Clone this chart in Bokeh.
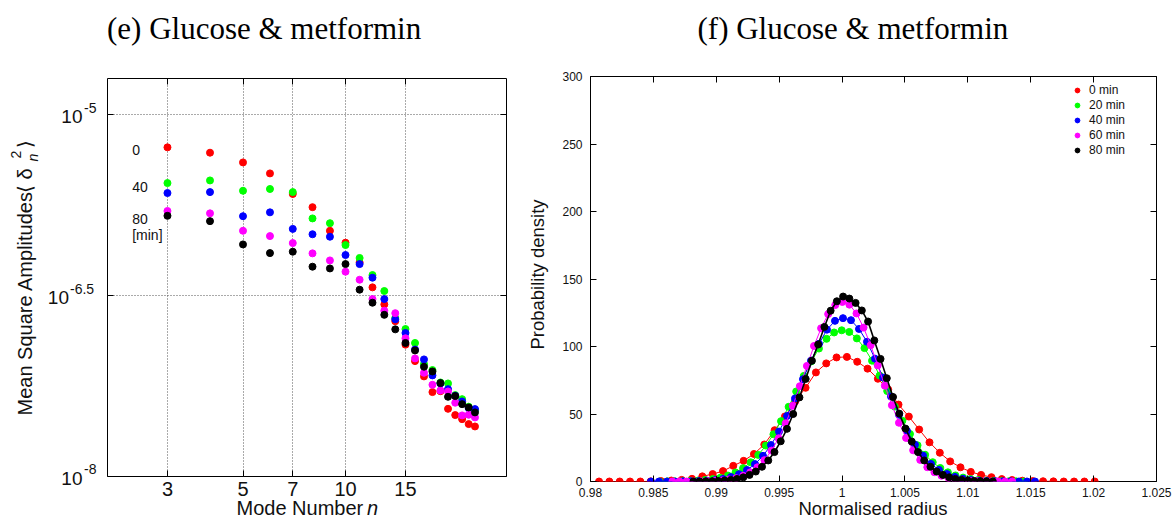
import numpy as np
from bokeh.plotting import figure
from bokeh.models import (Range1d, FixedTicker, Label, LogAxis, LinearAxis, GridBox,
                          CustomJSTickFormatter, Legend, LegendItem)
from bokeh.embed import file_html
from bokeh.resources import INLINE

# ---------------- data: panel (e) ----------------
modes = list(range(3, 25))
amp_0 = [5.36e-6, 4.84e-6, 4.02e-6, 3.26e-6, 2.20e-6, 1.71e-6, 1.09e-6, 8.68e-7, 5.96e-7, 3.70e-7, 2.67e-7,
         1.94e-7, 1.24e-7, 9.05e-8, 6.76e-8, 5.01e-8, 5.10e-8, 3.64e-8, 3.23e-8, 2.99e-8, 2.72e-8, 2.60e-8]
amp_20 = [2.71e-6, 2.85e-6, 2.34e-6, 2.42e-6, 2.28e-6, 1.38e-6, 1.26e-6, 8.30e-7, 6.48e-7, 4.68e-7, 3.45e-7,
          2.06e-7, 1.67e-7, 1.28e-7, 8.55e-8, 7.63e-8, 6.02e-8, 5.91e-8, 4.73e-8, 4.38e-8, 3.79e-8, 3.57e-8]
amp_40 = [2.24e-6, 2.28e-6, 1.44e-6, 1.55e-6, 1.13e-6, 1.02e-6, 9.73e-7, 6.86e-7, 5.77e-7, 4.45e-7, 2.96e-7,
          2.01e-7, 1.55e-7, 1.13e-7, 9.35e-8, 6.89e-8, 5.91e-8, 5.30e-8, 4.67e-8, 4.19e-8, 3.69e-8, 3.62e-8]
amp_60 = [1.59e-6, 1.52e-6, 1.09e-6, 9.85e-7, 8.62e-7, 7.08e-7, 6.19e-7, 4.99e-7, 4.28e-7, 2.96e-7, 2.37e-7,
          2.26e-7, 1.40e-7, 9.53e-8, 7.24e-8, 5.76e-8, 5.17e-8, 5.07e-8, 4.09e-8, 3.21e-8, 3.25e-8, 3.09e-8]
amp_80 = [1.45e-6, 1.31e-6, 8.40e-7, 7.12e-7, 7.31e-7, 5.49e-7, 5.31e-7, 5.77e-7, 3.54e-7, 2.76e-7, 2.19e-7,
          1.66e-7, 1.28e-7, 1.11e-7, 8.13e-8, 7.43e-8, 5.95e-8, 4.58e-8, 4.64e-8, 3.98e-8, 3.74e-8, 3.40e-8]
amp_series = [amp_0, amp_20, amp_40, amp_60, amp_80]
e_xticks = [3, 5, 7, 10, 15]
e_yticks = [1e-8, 10 ** -6.5, 1e-5]
e_ytick_exp = ["-8", "-6.5", "-5"]
e_side_texts = ["0", "40", "80", "[min]"]

# ---------------- data: panel (f) ----------------
times = ["0 min", "20 min", "40 min", "60 min", "80 min"]
colors = ["#ff0000", "#00ff00", "#0000ff", "#ff00ff", "#000000"]
bin_start = [0.98068, 0.98550, 0.98481, 0.98651, 0.98818]
bin_width = [0.000821, 0.000603, 0.000636, 0.000563, 0.000496]
pd_0 = [0, 0, 0, 0, 0, 0.1, 0.3, 0.7, 1.2, 2.0, 3.8, 5.5, 7.7, 11.6, 15.3, 20.4, 27.4, 38.0, 48.2, 59.4,
        69.4, 80.8, 87.5, 91.9, 92.3, 88.7, 83.6, 76.1, 68.1, 57.0, 48.1, 38.5, 29.0, 21.3, 14.9, 10.5, 7.1,
        4.9, 3.2, 1.8, 1.1, 0.6, 0.3, 0.2, 0.1, 0, 0, 0, 0]
pd_20 = [0.0, 0.1, 0.1, 0.2, 0.3, 0.6, 1.1, 1.8, 2.8, 4.4, 6.7, 9.9, 14.2, 19.7, 26.6, 35.0, 44.7, 55.3,
         66.7, 78.2, 89.0, 98.5, 105.7, 110.4, 112.0, 110.8, 106.0, 98.8, 89.5, 78.5, 67.0, 55.5, 45.0, 35.2,
         26.8, 19.8, 14.3, 10.0, 6.8, 4.5, 2.9, 1.8, 1.1, 0.6, 0.3, 0.2, 0.1, 0.1, 0.0]
pd_40 = [0, 0, 0, 0, 0.1, 0.1, 0.3, 0.6, 1.0, 1.9, 3.3, 5.4, 8.5, 12.9, 19.0, 27.0, 37.0, 48.5, 61.5, 75.8,
         89.5, 102.0, 112.5, 119.0, 121.0, 119.5, 113.0, 103.5, 91.0, 77.0, 63.0, 49.5, 37.5, 27.3, 19.2,
         13.0, 8.6, 5.5, 3.4, 2.0, 1.1, 0.6, 0.3, 0.2, 0.1, 0.1, 0, 0, 0]
pd_60 = [0, 0, 0, 0, 0.1, 0.2, 0.4, 0.8, 1.5, 2.5, 4.2, 6.8, 10.5, 15.8, 22.9, 32.0, 43.1, 56.1, 70.6, 85.6,
         100.4, 113.5, 124.0, 130.7, 133.0, 131.0, 124.5, 114.0, 101.0, 86.0, 71.0, 56.5, 43.5, 32.3, 23.1,
         16.0, 10.6, 6.9, 4.3, 2.6, 1.5, 0.8, 0.5, 0.2, 0.1, 0, 0, 0, 0]
pd_80 = [0.0, 0.0, 0.1, 0.2, 0.4, 0.7, 1.2, 1.9, 3.1, 4.9, 7.4, 10.9, 15.6, 21.8, 29.8, 39.0, 50.0, 62.3,
         76.0, 89.5, 101.5, 114.5, 126.5, 133.5, 137.0, 135.5, 132.3, 126.7, 118.5, 104.5, 90.8, 76.5, 62.6,
         50.3, 39.2, 29.6, 21.8, 15.6, 10.9, 7.4, 4.9, 3.1, 1.9, 1.2, 0.7, 0.4, 0.2, 0.1, 0.0]
pd_series = [pd_0, pd_20, pd_40, pd_60, pd_80]
f_xticks = [0.98, 0.985, 0.99, 0.995, 1.0, 1.005, 1.01, 1.015, 1.02, 1.025]
f_xtick_labels = ["0.98", "0.985", "0.99", "0.995", "1", "1.005", "1.01", "1.015", "1.02", "1.025"]
f_yticks = [0, 50, 100, 150, 200, 250, 300]

SANS = "Liberation Sans"
SERIF = "Liberation Serif"
INK = "#111111"
PAGE_W, H = 1175, 520
KB = 0.36  # label anchor sits this fraction of the font size above the baseline


def empty_fmt():
    return CustomJSTickFormatter(code="return '';")


# ================= panel (e) =================
W1 = 520
L1, R1, T1, B1 = 107, 506, 78, 476
X1 = (2.0, 29.7)
Y1 = (1e-8, 10 ** -4.70)

p1 = figure(width=W1, height=H, x_axis_type="log", y_axis_type="log",
            x_range=Range1d(*X1), y_range=Range1d(*Y1),
            output_backend="svg", toolbar_location=None, frame_align=False,
            min_border_left=L1, min_border_right=W1 - R1,
            min_border_top=T1, min_border_bottom=H - B1)
p1.outline_line_color = "black"
p1.outline_line_width = 1
p1.outline_line_alpha = 1

lx0, lx1 = np.log10(X1[0]), np.log10(X1[1])
ly0, ly1 = np.log10(Y1[0]), np.log10(Y1[1])


def ex(px):
    return 10 ** (lx0 + (px - L1) / (R1 - L1) * (lx1 - lx0))


def ey(py):
    return 10 ** (ly0 + (B1 - py) / (B1 - T1) * (ly1 - ly0))


def tick_py(v):
    return B1 - (np.log10(v) - ly0) / (ly1 - ly0) * (B1 - T1)


xt = FixedTicker(ticks=e_xticks)
yt = FixedTicker(ticks=e_yticks)
p1.xaxis.ticker = xt
p1.xaxis.formatter = CustomJSTickFormatter(code="return String(tick);")
p1.xaxis.major_label_text_font = SANS
p1.xaxis.major_label_text_font_size = "20px"
p1.xaxis.major_label_text_color = INK
p1.xaxis.major_label_standoff = 5
p1.yaxis.ticker = yt
p1.yaxis.formatter = empty_fmt()
p1.yaxis.major_label_standoff = 0
for ax in [p1.xaxis[0], p1.yaxis[0]]:
    ax.axis_line_color = None
    ax.major_tick_in = 6
    ax.major_tick_out = 0
    ax.minor_tick_line_color = None
p1.add_layout(LogAxis(ticker=yt, formatter=empty_fmt(), axis_line_color=None, major_tick_in=6, major_tick_out=0,
                      minor_tick_line_color=None, major_label_standoff=0), "right")
p1.add_layout(LogAxis(ticker=xt, formatter=empty_fmt(), axis_line_color=None, major_tick_in=6, major_tick_out=0,
                      minor_tick_line_color=None, major_label_standoff=0), "above")
for g in [p1.xgrid[0], p1.ygrid[0]]:
    g.grid_line_color = "#555555"
    g.grid_line_dash = "1 2"
    g.grid_line_width = 1
p1.xgrid.ticker = xt
p1.ygrid.ticker = yt

for amps, c in zip(amp_series, colors):
    p1.scatter(modes, amps, size=7, fill_color=c, line_color=c)

side_base = [155, 191.7, 224, 239.5]
for t, b in zip(e_side_texts, side_base):
    p1.add_layout(Label(x=ex(131.7), y=ey(b - KB * 14), text=t, text_font=SANS, text_font_size="14px",
                        text_align="left", text_baseline="alphabetic", text_color=INK))

# ================= panel (f) =================
W2 = PAGE_W - W1
PL2, PR2, T2, B2 = 590, 1156, 76, 481  # page coordinates of frame
X2 = (0.98, 1.025)
Y2 = (0, 300)
p2 = figure(width=W2, height=H, x_range=Range1d(*X2), y_range=Range1d(*Y2),
            output_backend="svg", toolbar_location=None, frame_align=False,
            min_border_left=PL2 - W1, min_border_right=PAGE_W - PR2,
            min_border_top=T2, min_border_bottom=H - B2)
p2.outline_line_color = "black"
p2.outline_line_width = 1
p2.outline_line_alpha = 1
p2.xgrid.visible = False
p2.ygrid.visible = False

fxt = FixedTicker(ticks=f_xticks)
fyt = FixedTicker(ticks=f_yticks)
p2.xaxis.ticker = fxt
p2.xaxis.formatter = CustomJSTickFormatter(
    args=dict(tvals=f_xticks, tlabs=f_xtick_labels),
    code="const i = tvals.findIndex(t => Math.abs(t - tick) < 1e-9); return i >= 0 ? tlabs[i] : '';")
p2.yaxis.ticker = fyt
for ax in [p2.xaxis[0], p2.yaxis[0]]:
    ax.axis_line_color = None
    ax.major_tick_in = 6
    ax.major_tick_out = 0
    ax.minor_tick_line_color = None
    ax.major_label_text_font = SANS
    ax.major_label_text_font_size = "12px"
    ax.major_label_text_color = INK
p2.xaxis.major_label_standoff = 6
p2.yaxis.major_label_standoff = 8
p2.add_layout(LinearAxis(ticker=fyt, formatter=empty_fmt(), axis_line_color=None, major_tick_in=6,
                         major_tick_out=0, minor_tick_line_color=None, major_label_standoff=0), "right")
p2.add_layout(LinearAxis(ticker=fxt, formatter=empty_fmt(), axis_line_color=None, major_tick_in=6,
                         major_tick_out=0, minor_tick_line_color=None, major_label_standoff=0), "above")

items = []
for s0, dw, vals, c, lab in zip(bin_start, bin_width, pd_series, colors, times):
    r = s0 + dw * np.arange(len(vals))
    p2.line(r, vals, line_color=c, line_width=1.6 if c == "#000000" else 1)
    sc = p2.scatter(r, vals, size=7, fill_color=c, line_color=c)
    items.append(LegendItem(label=lab, renderers=[sc]))

leg = Legend(items=items, location="top_right", margin=7, padding=0, spacing=1,
             label_text_font=SANS, label_text_font_size="12px", label_text_color=INK,
             label_height=12, glyph_height=12, glyph_width=12, label_width=60, label_standoff=6,
             border_line_color=None, background_fill_alpha=0)
p2.add_layout(leg)

# ================= text layer (page pixel coordinates) =================
ov = figure(width=PAGE_W, height=H, x_range=Range1d(0, PAGE_W), y_range=Range1d(H, 0),
            output_backend="svg", toolbar_location=None, x_axis_location=None, y_axis_location=None,
            frame_align=False,
            min_border_left=0, min_border_right=0, min_border_top=0, min_border_bottom=0,
            outline_line_color=None, background_fill_alpha=0, border_fill_alpha=0)
ov.grid.visible = False
UP = np.pi / 2


def txt(x, y, text, size, font=SANS, align="left", angle=0.0, style="normal", color=INK, kb=KB):
    # (x, y) is the wanted baseline point in page pixels
    if angle == 0.0:
        y = y - kb * size
    else:
        x = x - kb * size
    ov.add_layout(Label(x=x, y=y, text=text, text_font=font, text_font_size=f"{size}px", text_align=align,
                        text_baseline="alphabetic", angle=angle, text_font_style=style, text_color=color))


# titles
txt(106.5, 38, "(e) Glucose & metformin", 31, font=SERIF, color="black", kb=0.33)
txt(697, 38, "(f) Glucose & metformin", 31, font=SERIF, color="black", kb=0.33)

# panel (e) y tick labels 10^x
ten_right = [82, 68.5, 82]
sup_left = [83.5, 69.5, 83.5]
for v, e, tr, sl in zip(e_yticks, e_ytick_exp, ten_right, sup_left):
    gy = tick_py(v)
    txt(tr, gy + 9, "10", 19, align="right")
    txt(sl, gy - 2, e, 14)

# panel (e) axis titles
txt(236, 515, "Mode Number", 20)
txt(366.5, 515, "n", 20, style="italic")
txt(31.5, 415, "Mean Square Amplitudes", 20, angle=UP)
txt(31.5, 192.5, "\u27e8", 20, angle=UP)
txt(31.5, 179, "\u03b4", 20, angle=UP)
txt(37.5, 161, "n", 14, angle=UP, style="italic")
txt(21.0, 158, "2", 14, angle=UP)
txt(31.5, 147.5, "\u27e9", 20, angle=UP)

# panel (f) axis titles
txt(872.5, 515, "Normalised radius", 18.5, align="center")
txt(544, 274, "Probability density", 18.5, align="center", angle=UP)

layout = GridBox(children=[(p1, 0, 0), (p2, 0, 1), (ov, 0, 0, 1, 2)], spacing=0)
open("out.html", "w").write(file_html(layout, INLINE, "Glucose & metformin"))
